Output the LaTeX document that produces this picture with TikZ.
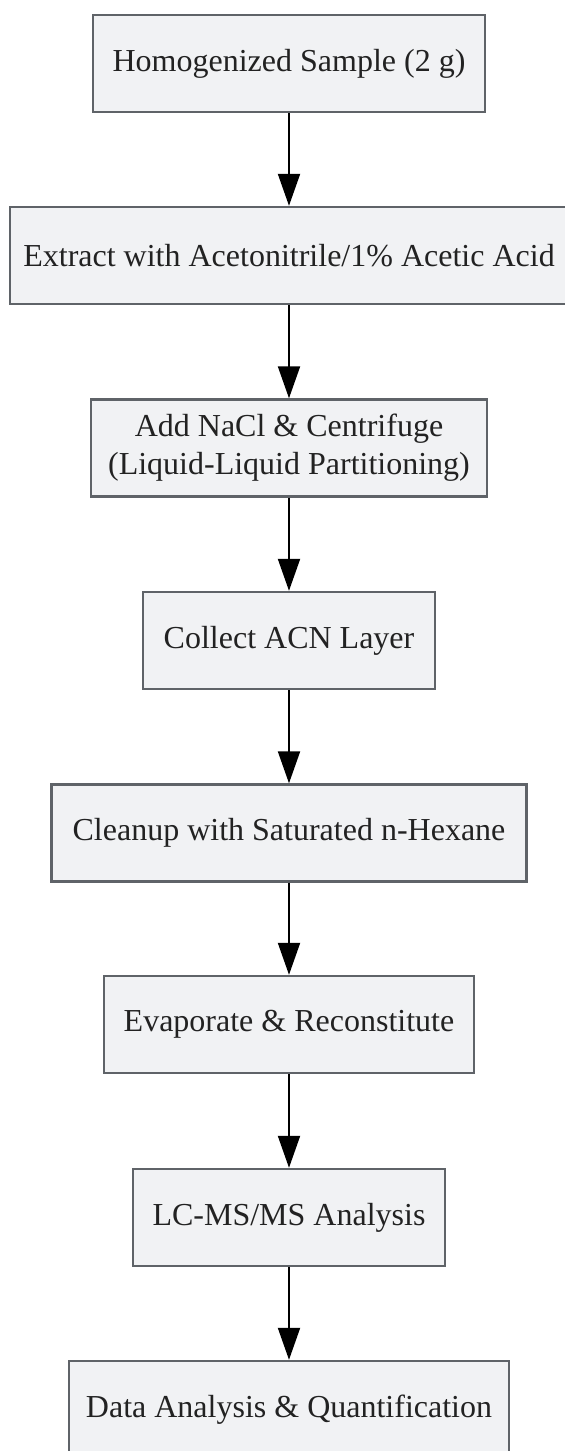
\documentclass[tikz,border=0pt]{standalone}
\usepackage{fontspec}
\setmainfont{Liberation Serif}
\usetikzlibrary{arrows.meta}
\definecolor{stagefill}{RGB}{241,242,244}
\definecolor{stageline}{RGB}{95,99,104}
\definecolor{stagetext}{RGB}{34,34,34}
\tikzset{
  stage/.style={draw=stageline, line width=1.2pt, fill=stagefill, text=stagetext,
    minimum height=48.5pt, inner xsep=6pt, align=center,
    font=\fontsize{16}{19}\selectfont},
  flow/.style={-{Triangle[length=16pt,width=11pt]}, line width=1pt, black}
}
\begin{document}
\begin{tikzpicture}[x=0.5pt,y=-0.5pt]
    \useasboundingbox (0,0) rectangle (565,1451);
    \node[stage, minimum width=196pt] (sample) at (289,63.5) {Homogenized Sample (2 g)};
    \node[stage, minimum width=279pt] (extract) at (289,255.5) {Extract with Acetonitrile/1\% Acetic Acid};
    \node[stage, minimum width=198pt] (salt) at (289,448) {Add NaCl \& Centrifuge\\(Liquid-Liquid Partitioning)};
    \node[stage, minimum width=146pt] (acn) at (289,640.5) {Collect ACN Layer};
    \node[stage, minimum width=237.5pt] (cleanup) at (289,833) {Cleanup with Saturated n-Hexane};
    \node[stage, minimum width=185pt] (evap) at (289,1024.5) {Evaporate \& Reconstitute};
    \node[stage, minimum width=156pt] (lcms) at (289,1217.5) {LC-MS/MS Analysis};
    \node[stage, minimum width=220pt] (data) at (289,1409.5) {Data Analysis \& Quantification};
    \draw[flow] (sample) -- (extract);
    \draw[flow] (extract) -- (salt);
    \draw[flow] (salt) -- (acn);
    \draw[flow] (acn) -- (cleanup);
    \draw[flow] (cleanup) -- (evap);
    \draw[flow] (evap) -- (lcms);
    \draw[flow] (lcms) -- (data);
  \end{tikzpicture}
\end{document}
